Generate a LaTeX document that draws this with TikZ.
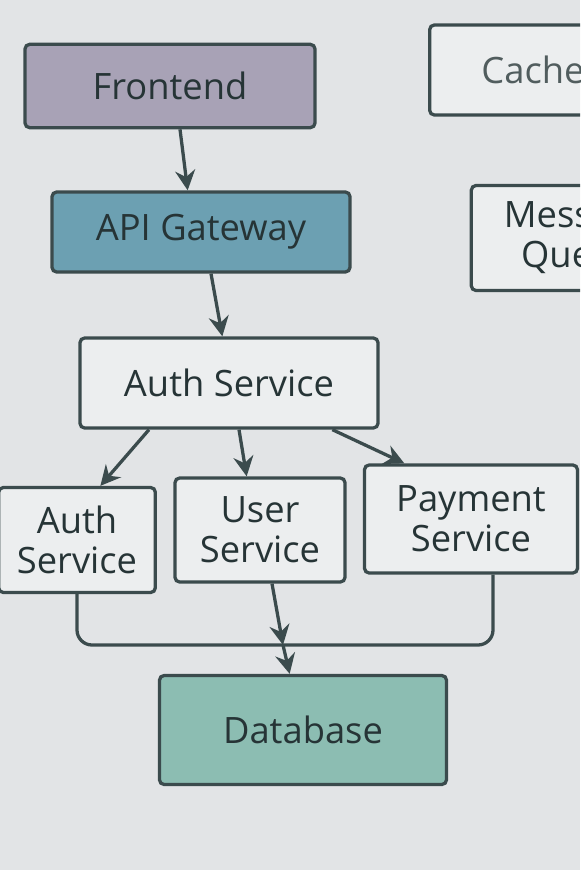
\documentclass[tikz,border=0pt]{standalone}
\usepackage{fontspec}
\setmainfont{Open Sans}
\usepackage{xcolor}
\usetikzlibrary{arrows.meta}

\definecolor{bgcol}{HTML}{E2E4E6}
\definecolor{linecol}{HTML}{3B4B4D}
\definecolor{textcol}{HTML}{263436}
\definecolor{frontcol}{HTML}{A8A2B6}
\definecolor{apicol}{HTML}{6CA0B2}
\definecolor{dbcol}{HTML}{8CBDB2}
\definecolor{plaincol}{HTML}{ECEEEF}

\begin{document}
\begin{tikzpicture}[x=0.03cm, y=-0.03cm,
    box/.style={draw=linecol, line width=2.8pt, rounded corners=0.14cm, fill=plaincol,
        text=textcol, align=center, font=\fontsize{31}{34}\selectfont},
    link/.style={draw=linecol, line width=2.8pt, -{Stealth[length=0.6cm, width=0.6cm, inset=0.2cm]}}]
        \clip (0, 0) rectangle (580, 870);
        \fill[bgcol] (0, 0) rectangle (580, 870);

        \node[box, fill=frontcol, minimum width=8.7cm, minimum height=2.5cm] (front) at (170, 86) {Frontend};
        \node[box, fill=apicol, minimum width=8.94cm, minimum height=2.4cm] (api) at (201, 232) {API Gateway};
        \node[box, minimum width=8.94cm, minimum height=2.7cm] (auth) at (229, 383) {Auth Service};

        \node[box, minimum width=4.7cm, minimum height=3.15cm] (authL) at (77, 540) {Auth\\Service};
        \node[box, minimum width=5.1cm, minimum height=3.12cm] (user) at (260, 530) {User\\Service};
        \node[box, minimum width=6.39cm, minimum height=3.24cm] (pay) at (471, 519) {Payment\\Service};

        \node[box, fill=dbcol, minimum width=8.61cm, minimum height=3.27cm] (db) at (303, 730) {Database};

        \node[box, minimum width=6.2cm, minimum height=2.7cm, text=textcol!80] (cache) at (533, 70) {Cache};
        \node[box, minimum width=6.4cm, minimum height=3.15cm] (queue) at (578, 238) {Message\\Queue};

        \draw[link] ([xshift=0.3cm]front.south) -- ([xshift=-0.4cm]api.north);
        \draw[link] ([xshift=0.3cm]api.south) -- ([xshift=-0.2cm]auth.north);

        \draw[link] ([xshift=-2.4cm]auth.south) -- ([xshift=0.7cm]authL.north);
        \draw[link] ([xshift=0.3cm]auth.south) -- ([xshift=-0.4cm]user.north);
        \draw[link] ([xshift=3.1cm]auth.south) -- ([xshift=-2cm]pay.north);

        \coordinate (bus) at (283, 645);
        \draw[draw=linecol, line width=2.8pt, rounded corners=0.45cm] (authL.south) |- (bus) -| ([xshift=0.66cm]pay.south);
        \draw[link] ([xshift=0.36cm]user.south) -- (bus);
        \draw[link] (bus) -- ([xshift=-0.4cm]db.north);
    \end{tikzpicture}
\end{document}
